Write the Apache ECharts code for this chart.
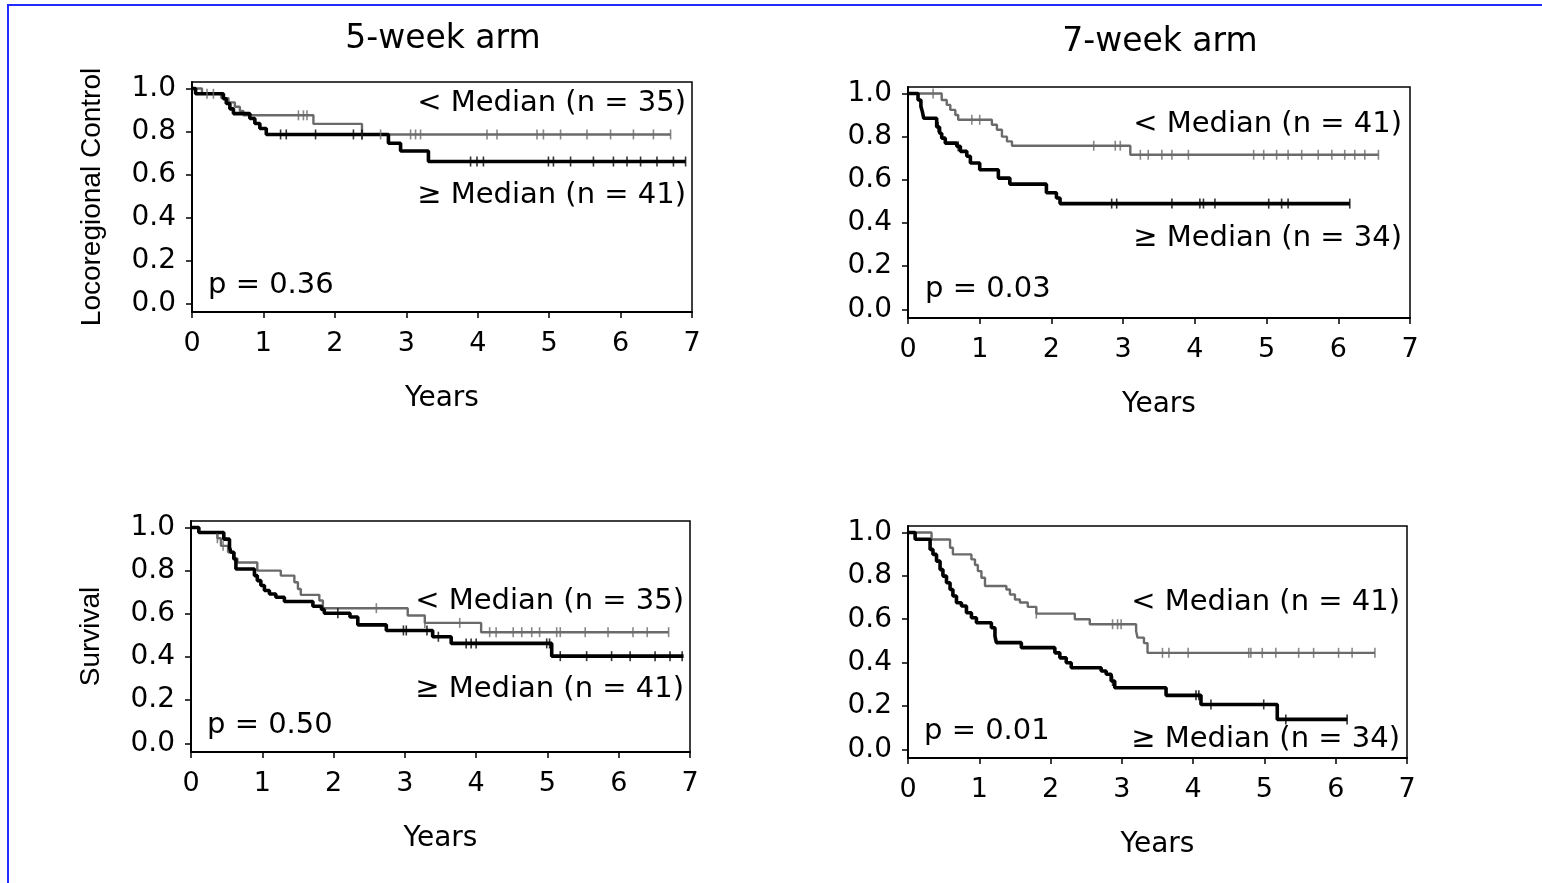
<!DOCTYPE html>
<html><head><meta charset="utf-8">
<script src="https://cdn.jsdelivr.net/npm/echarts@6/dist/echarts.min.js"></script>
<style>
html,body{margin:0;padding:0;background:#fff;}
#c{position:absolute;left:0;top:0;width:1542px;height:883px;}
#frame{position:absolute;left:7px;top:4px;right:0;bottom:0;border-top:2px solid #1f2bff;border-left:2px solid #1f2bff;pointer-events:none;}
</style></head>
<body><div id="c"></div><div id="frame"></div>
<script>
// ---------- data ----------
const yTicks = [0, 0.2, 0.4, 0.6, 0.8, 1.0];
const panelTitles = ['5-week arm', '7-week arm'];
const yNames = ['Locoregional Control', 'Survival'];

// Panel 1: 5-week arm, locoregional control
const lrc5_lo_t = [0, 0.14, 0.41, 0.51, 0.60, 0.67, 0.72, 1.70, 2.38, 6.70];
const lrc5_lo_s = [1, 0.975, 0.955, 0.935, 0.915, 0.895, 0.875, 0.835, 0.786, 0.786];
const lrc5_lo_c = [0.21, 0.30, 1.49, 1.56, 1.61, 2.38, 2.64, 3.06, 3.13, 3.20, 4.13, 4.27, 4.83, 4.92, 5.16, 5.53, 5.86, 6.18, 6.46, 6.70];
const lrc5_hi_t = [0, 0.05, 0.44, 0.48, 0.53, 0.58, 0.81, 0.88, 0.95, 1.04, 2.75, 2.92, 3.31, 6.91];
const lrc5_hi_s = [1, 0.975, 0.952, 0.93, 0.905, 0.883, 0.86, 0.837, 0.814, 0.786, 0.745, 0.709, 0.66, 0.66];
const lrc5_hi_c = [1.24, 1.32, 1.73, 2.26, 2.38, 3.90, 3.99, 4.08, 4.99, 5.06, 5.30, 5.62, 5.90, 6.09, 6.28, 6.51, 6.74, 6.91];

// Panel 2: 7-week arm, locoregional control
const lrc7_lo_t = [0, 0.47, 0.54, 0.59, 0.66, 0.70, 1.17, 1.24, 1.31, 1.38, 1.45, 3.10, 6.56];
const lrc7_lo_s = [1, 0.97, 0.947, 0.924, 0.90, 0.878, 0.855, 0.832, 0.80, 0.778, 0.758, 0.716, 0.716];
const lrc7_lo_c = [0.35, 0.89, 1.00, 2.59, 2.89, 2.96, 3.24, 3.35, 3.54, 3.68, 3.91, 4.82, 4.96, 5.14, 5.30, 5.49, 5.72, 5.91, 6.09, 6.23, 6.37, 6.56];
const lrc7_hi_t = [0, 0.14, 0.18, 0.20, 0.22, 0.40, 0.44, 0.47, 0.52, 0.68, 0.73, 0.82, 0.87, 1.00, 1.26, 1.42, 1.93, 2.07, 2.12, 6.16];
const lrc7_hi_s = [1, 0.97, 0.94, 0.916, 0.885, 0.845, 0.816, 0.793, 0.77, 0.755, 0.732, 0.709, 0.678, 0.647, 0.608, 0.58, 0.54, 0.516, 0.49, 0.49];
const lrc7_hi_c = [0.42, 0.70, 2.84, 2.91, 3.68, 4.07, 4.12, 4.28, 5.03, 5.21, 5.30, 6.16];

// Panel 3: 5-week arm, survival
const os5_lo_t = [0, 0.11, 0.37, 0.42, 0.52, 0.61, 0.65, 0.93, 1.26, 1.45, 1.50, 1.54, 1.80, 1.85, 3.04, 3.28, 4.07, 6.70];
const os5_lo_s = [1, 0.977, 0.95, 0.915, 0.885, 0.857, 0.838, 0.80, 0.777, 0.746, 0.715, 0.688, 0.662, 0.626, 0.592, 0.558, 0.515, 0.515];
const os5_lo_c = [0.37, 0.45, 2.60, 3.28, 3.77, 4.19, 4.28, 4.52, 4.64, 4.78, 4.89, 5.13, 5.18, 5.53, 5.85, 6.20, 6.40, 6.70];
const os5_hi_t = [0, 0.11, 0.46, 0.54, 0.56, 0.60, 0.63, 0.89, 0.93, 0.98, 1.03, 1.10, 1.19, 1.31, 1.71, 1.83, 1.87, 2.23, 2.34, 2.74, 3.39, 3.65, 5.06, 6.91];
const os5_hi_s = [1, 0.977, 0.946, 0.908, 0.885, 0.854, 0.808, 0.777, 0.754, 0.731, 0.708, 0.692, 0.677, 0.657, 0.635, 0.62, 0.603, 0.585, 0.549, 0.523, 0.494, 0.463, 0.404, 0.404];
const os5_hi_c = [2.06, 2.98, 3.02, 3.31, 3.47, 3.86, 3.93, 4.00, 4.99, 5.03, 5.18, 5.55, 5.90, 6.16, 6.51, 6.72, 6.89];

// Panel 4: 7-week arm, survival
const os7_lo_t = [0, 0.33, 0.59, 0.63, 0.89, 0.94, 0.98, 1.03, 1.08, 1.38, 1.43, 1.50, 1.57, 1.68, 1.80, 2.34, 2.55, 3.20, 3.22, 3.31, 3.36, 6.55];
const os7_lo_s = [1, 0.968, 0.93, 0.899, 0.876, 0.85, 0.822, 0.791, 0.753, 0.737, 0.714, 0.691, 0.677, 0.657, 0.626, 0.60, 0.577, 0.545, 0.515, 0.49, 0.445, 0.445];
const os7_lo_c = [1.80, 2.87, 2.94, 2.99, 3.57, 3.66, 3.93, 4.78, 4.81, 4.97, 5.16, 5.48, 5.69, 6.04, 6.23, 6.55];
const os7_hi_t = [0, 0.10, 0.31, 0.35, 0.40, 0.45, 0.49, 0.54, 0.59, 0.63, 0.68, 0.75, 0.82, 0.89, 0.96, 1.17, 1.22, 1.24, 1.59, 2.06, 2.13, 2.22, 2.29, 2.71, 2.78, 2.85, 2.90, 3.62, 4.11, 5.18, 6.16];
const os7_hi_s = [1, 0.969, 0.922, 0.899, 0.868, 0.829, 0.799, 0.768, 0.737, 0.707, 0.676, 0.661, 0.630, 0.607, 0.584, 0.561, 0.522, 0.492, 0.469, 0.445, 0.422, 0.399, 0.376, 0.361, 0.346, 0.315, 0.284, 0.249, 0.207, 0.138, 0.138];
const os7_hi_c = [2.87, 4.04, 4.08, 4.25, 4.99, 5.30, 6.16];

const loLabels = ['< Median (n = 35)', '< Median (n = 41)', '< Median (n = 35)', '< Median (n = 41)'];
const hiLabels = ['\u2265 Median (n = 41)', '\u2265 Median (n = 34)', '\u2265 Median (n = 41)', '\u2265 Median (n = 34)'];
const pLabels = ['p = 0.36', 'p = 0.03', 'p = 0.50', 'p = 0.01'];

// ---------- layout ----------
const grids = [
  {left: 192, top: 82, width: 500, height: 230},
  {left: 908, top: 87, width: 502, height: 231},
  {left: 191, top: 521, width: 499, height: 231},
  {left: 908, top: 526, width: 499, height: 232}
];
const textPos = [
  {lo: [686, 103], hi: [686, 195], p: [208, 285]},
  {lo: [1402, 124], hi: [1402, 238], p: [925, 289]},
  {lo: [684, 601], hi: [684, 689], p: [207, 725]},
  {lo: [1400, 602], hi: [1400, 739], p: [924, 731]}
];
const panels = [
  {lo: [lrc5_lo_t, lrc5_lo_s, lrc5_lo_c], hi: [lrc5_hi_t, lrc5_hi_s, lrc5_hi_c]},
  {lo: [lrc7_lo_t, lrc7_lo_s, lrc7_lo_c], hi: [lrc7_hi_t, lrc7_hi_s, lrc7_hi_c]},
  {lo: [os5_lo_t, os5_lo_s, os5_lo_c], hi: [os5_hi_t, os5_hi_s, os5_hi_c]},
  {lo: [os7_lo_t, os7_lo_s, os7_lo_c], hi: [os7_hi_t, os7_hi_s, os7_hi_c]}
];

const FONT = 'DejaVu Sans';
const GRAY = '#6a6a6a';

function survAt(t, ts, ss) {
  let v = ss[0];
  for (let i = 0; i < ts.length; i++) { if (ts[i] <= t + 1e-9) v = ss[i]; }
  return v;
}

const xAxes = [], yAxes = [], series = [], graphic = [];
grids.forEach((g, i) => {
  xAxes.push({
    gridIndex: i, type: 'value', min: 0, max: 7, interval: 1,
    axisLine: {onZero: false, lineStyle: {color: '#000', width: 2}},
    axisTick: {length: 6, lineStyle: {color: '#000', width: 1.5}},
    axisLabel: {color: '#000', fontSize: 27, fontFamily: FONT, margin: 18},
    splitLine: {show: false},
    name: 'Years', nameLocation: 'middle', nameGap: 73,
    nameTextStyle: {color: '#000', fontSize: 28, fontFamily: FONT}
  });
  yAxes.push({
    gridIndex: i, type: 'value', min: -0.04, max: 1.03,
    axisLine: {show: true, lineStyle: {color: '#000', width: 2}},
    axisTick: {show: true, length: 6, customValues: yTicks, lineStyle: {color: '#000', width: 1.5}},
    axisLabel: {customValues: yTicks, formatter: v => v.toFixed(1), color: '#000', fontSize: 28, fontFamily: FONT, margin: 16},
    splitLine: {show: false},
    name: (i % 2 === 0) ? yNames[i / 2] : '', nameLocation: 'middle', nameGap: 86,
    nameTextStyle: {color: '#000', fontSize: 28, fontFamily: 'Liberation Sans'}
  });
  const p = panels[i];
  [['lo', GRAY, 2.4], ['hi', '#000', 3.6]].forEach(([k, col, w]) => {
    const [ts, ss, cs] = p[k];
    series.push({
      type: 'line', xAxisIndex: i, yAxisIndex: i, step: 'end', showSymbol: false, animation: false,
      data: ts.map((t, j) => [t, ss[j]]),
      lineStyle: {color: col, width: w}, z: k === 'hi' ? 3 : 2
    });
    series.push({
      type: 'scatter', xAxisIndex: i, yAxisIndex: i, animation: false, symbol: 'rect',
      symbolSize: [1.6, 10], itemStyle: {color: col},
      data: cs.map(t => [t, survAt(t, ts, ss)]), z: 4
    });
  });
  const tp = textPos[i];
  const mk = (txt, pos, align) => ({
    type: 'text', x: pos[0], y: pos[1], z: 10,
    style: {text: txt, fill: '#000', font: '29px "' + FONT + '"', fontSize: 29, fontFamily: FONT,
            align: align, textAlign: align, verticalAlign: 'middle', textVerticalAlign: 'middle'}
  });
  graphic.push(mk(loLabels[i], tp.lo, 'right'));
  graphic.push(mk(hiLabels[i], tp.hi, 'right'));
  graphic.push(mk(pLabels[i], tp.p, 'left'));
});
// panel titles
[[443, 39], [1160, 42]].forEach((pos, j) => {
  graphic.push({
    type: 'text', x: pos[0], y: pos[1], z: 10,
    style: {text: panelTitles[j], fill: '#000', font: '33px "' + FONT + '"', fontSize: 33, fontFamily: FONT,
            align: 'center', textAlign: 'center', verticalAlign: 'middle', textVerticalAlign: 'middle'}
  });
});

const chart = echarts.init(document.getElementById('c'), null, {renderer: 'canvas'});
chart.setOption({
  backgroundColor: '#fff',
  animation: false,
  grid: grids.map(g => Object.assign({show: true, borderColor: '#000', borderWidth: 1.5, backgroundColor: 'transparent'}, g)),
  xAxis: xAxes,
  yAxis: yAxes,
  series: series,
  graphic: graphic
});
</script></body></html>
